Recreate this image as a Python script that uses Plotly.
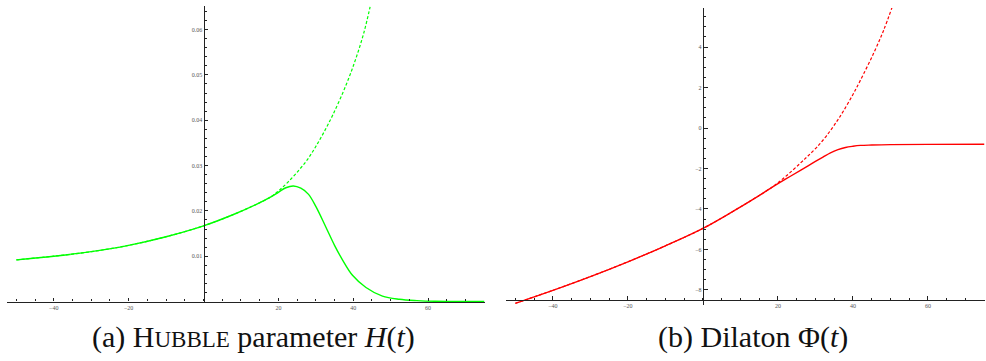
import plotly.graph_objects as go

# ---------------- data ----------------
# (a) Hubble parameter H(t): solid and dashed
h_solid_t = [-50, -40, -30, -20, -10, 0, 8, 14, 18, 20, 22, 24, 26, 28, 30, 32.7, 35, 37.2,
             39.8, 43.4, 47.8, 52.3, 57, 62, 75]
h_solid_v = [0.0092, 0.0100, 0.0110, 0.0124, 0.0143, 0.0167, 0.0192, 0.0214, 0.0231, 0.0241,
             0.0251, 0.0255, 0.0250, 0.0237, 0.0210, 0.0164, 0.0124, 0.0091, 0.0058, 0.0031,
             0.0012, 0.0005, 0.0002, 0.00005, 0.0]
h_dash_t = [-50, -40, -30, -20, -10, 0, 8, 14, 18, 20, 22.5, 25.6, 28, 30, 32, 34.5, 38, 40.7,
            42.9, 44.5]
h_dash_v = [0.0092, 0.0100, 0.0110, 0.0124, 0.0143, 0.0167, 0.0192, 0.0214, 0.0231, 0.0244,
            0.0263, 0.0291, 0.0316, 0.0342, 0.0371, 0.0411, 0.0476, 0.0536, 0.0595, 0.0650]

# (b) Dilaton Phi(t): solid and dashed
p_solid_t = [-50, -40, -30, -20, -10, 0, 8, 14, 18, 22, 26, 29, 32, 34, 36, 38, 40, 42, 45,
             50, 60, 75]
p_solid_v = [-8.66, -8.02, -7.34, -6.61, -5.82, -4.96, -4.12, -3.45, -2.98, -2.53, -2.09,
             -1.76, -1.44, -1.23, -1.07, -0.96, -0.90, -0.86, -0.84, -0.82, -0.81, -0.80]
p_dash_t = [-50, -40, -30, -20, -10, 0, 8, 14, 18, 22, 25.9, 28, 30.4, 33, 35.7, 37.5, 40,
            41.9, 45.5, 48.2, 50.4]
p_dash_v = [-8.66, -8.02, -7.34, -6.61, -5.82, -4.96, -4.12, -3.45, -2.98, -2.40, -1.75,
            -1.38, -0.94, -0.37, 0.33, 0.85, 1.66, 2.33, 3.69, 4.84, 5.95]

x_ticks = [-40, -20, 20, 40, 60]
x_tick_text = ["\u221240", "\u221220", "20", "40", "60"]
h_ticks = [0.01, 0.02, 0.03, 0.04, 0.05, 0.06]
h_tick_text = ["0.01", "0.02", "0.03", "0.04", "0.05", "0.06"]
p_ticks = [-8, -6, -4, -2, 0, 2, 4]
p_tick_text = ["\u22128", "\u22126", "\u22124", "\u22122", "0", "2", "4"]

caption_a = "(a) H<span style='font-size:23px'>UBBLE</span> parameter <i>H</i>(<i>t</i>)"
caption_b = "(b) Dilaton \u03a6(<i>t</i>)"

# ---------------- layout helpers ----------------
W, H = 986, 361
xr = [-52.5, 75.2]
hr = [-0.0001, 0.0652]
pr = [-8.72, 5.93]

dom_x1 = [7 / W, 485 / W]
dom_x2 = [506 / W, 985 / W]
dom_y1 = [1 - 302 / H, 1 - 6 / H]
dom_y2 = [1 - 304.5 / H, 1 - 8 / H]


def frac(dom, rng, v):
    return dom[0] + (dom[1] - dom[0]) * (v - rng[0]) / (rng[1] - rng[0])


green = "#00ff00"
red = "#ff0000"

fig = go.Figure()
fig.add_trace(go.Scatter(x=h_dash_t, y=h_dash_v, mode="lines",
                         line=dict(color=green, width=1.2, dash="3px,2px", shape="spline"),
                         xaxis="x", yaxis="y", showlegend=False))
fig.add_trace(go.Scatter(x=h_solid_t, y=h_solid_v, mode="lines",
                         line=dict(color=green, width=1.4, shape="spline"),
                         xaxis="x", yaxis="y", showlegend=False))
fig.add_trace(go.Scatter(x=p_dash_t, y=p_dash_v, mode="lines",
                         line=dict(color=red, width=1.2, dash="3px,2px", shape="spline"),
                         xaxis="x2", yaxis="y2", showlegend=False))
fig.add_trace(go.Scatter(x=p_solid_t, y=p_solid_v, mode="lines",
                         line=dict(color=red, width=1.4, shape="spline"),
                         xaxis="x2", yaxis="y2", showlegend=False))

tickfont = dict(family="Liberation Serif", size=6, color="#555555")
axis_common = dict(showgrid=False, zeroline=False, showline=True, linecolor="#222222", linewidth=1.3,
                   ticks="inside", ticklen=3.5, tickwidth=1, tickcolor="#222222", tickfont=tickfont,
                   fixedrange=True)
minor_x = dict(tickmode="linear", tick0=0, dtick=5, ticks="inside", ticklen=2, tickcolor="#222222")

fig.update_layout(
    width=W, height=H, margin=dict(l=0, r=0, t=0, b=0),
    paper_bgcolor="white", plot_bgcolor="white",
    xaxis=dict(domain=dom_x1, range=xr, anchor="free", position=frac(dom_y1, hr, 0.0),
               tickvals=x_ticks, ticktext=x_tick_text, minor=minor_x, **axis_common),
    yaxis=dict(domain=dom_y1, range=hr, anchor="free", position=frac(dom_x1, xr, 0.0),
               tickvals=h_ticks, ticktext=h_tick_text,
               minor=dict(tickmode="linear", tick0=0, dtick=0.002, ticks="inside", ticklen=2,
                          tickcolor="#222222"),
               **axis_common),
    xaxis2=dict(domain=dom_x2, range=xr, anchor="free", position=frac(dom_y2, pr, -8.5),
                tickvals=x_ticks, ticktext=x_tick_text, minor=minor_x, **axis_common),
    yaxis2=dict(domain=dom_y2, range=pr, anchor="free", position=frac(dom_x2, xr, 0.0),
                tickvals=p_ticks, ticktext=p_tick_text,
                minor=dict(tickmode="linear", tick0=0, dtick=0.5, ticks="inside", ticklen=2,
                           tickcolor="#222222"),
                **axis_common),
    annotations=[
        dict(text=caption_a, x=253 / W, y=1 - 337 / H, xref="paper", yref="paper", showarrow=False,
             xanchor="center", yanchor="middle",
             font=dict(family="Liberation Serif", size=30, color="#111111")),
        dict(text=caption_b, x=753 / W, y=1 - 337 / H, xref="paper", yref="paper", showarrow=False,
             xanchor="center", yanchor="middle",
             font=dict(family="Liberation Serif", size=30, color="#111111")),
    ],
)

fig.write_html("out.html")
